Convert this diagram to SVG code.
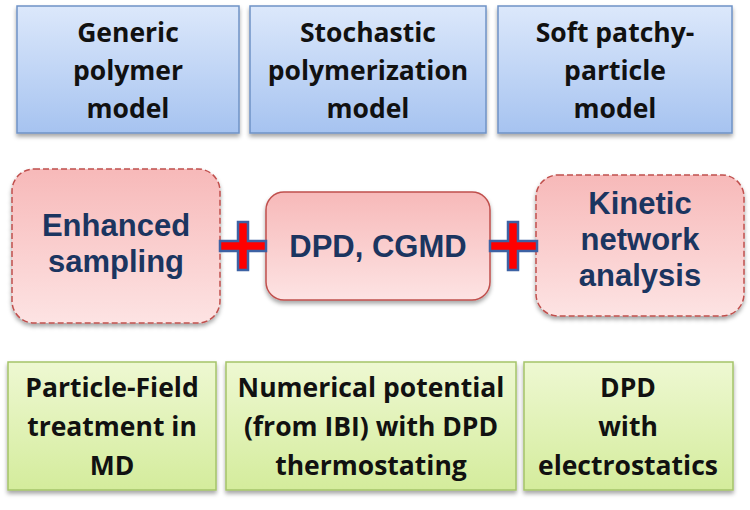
<svg xmlns="http://www.w3.org/2000/svg" width="750" height="510" viewBox="0 0 750 510">
<defs>
<linearGradient id="gBlue" x1="0" y1="0" x2="0" y2="1"><stop offset="0" stop-color="#dce8fb"/><stop offset="1" stop-color="#a6c3f0"/></linearGradient>
<linearGradient id="gPink" x1="0" y1="0" x2="0" y2="1"><stop offset="0" stop-color="#f7b9b9"/><stop offset="1" stop-color="#fde3e3"/></linearGradient>
<linearGradient id="gGreen" x1="0" y1="0" x2="0" y2="1"><stop offset="0" stop-color="#eef8d2"/><stop offset="1" stop-color="#d4ec9c"/></linearGradient>
<filter id="sh" x="-10%" y="-10%" width="120%" height="130%"><feDropShadow dx="0" dy="3" stdDeviation="2" flood-color="#000" flood-opacity="0.35"/></filter>
</defs>
<style>
.blue{fill:url(#gBlue);stroke:#6f93c6;stroke-width:1.5;filter:url(#sh)}
.green{fill:url(#gGreen);stroke:#a5c46a;stroke-width:1.5;filter:url(#sh)}
.pink{fill:url(#gPink);stroke:#c0504d;stroke-width:1.5;filter:url(#sh)}
.dash{stroke-dasharray:6 3}
.t{font-family:"Open Sans","Liberation Sans",sans-serif;font-weight:bold;font-size:26.5px;fill:#111;text-anchor:middle}
.m{font-family:"Liberation Sans","Open Sans",sans-serif;font-weight:bold;font-size:31px;fill:#1b3560;text-anchor:middle}
.plus{fill:#ff0000;stroke:#3d62a4;stroke-width:2.5}
</style>
<rect width="750" height="510" fill="#fff"/>
<g id="n1"><rect class="blue" x="17" y="6" width="222" height="127"/>
<text class="t" x="128" y="42">Generic</text><text class="t" x="128" y="80">polymer</text><text class="t" x="128" y="118">model</text></g>
<g id="n2"><rect class="blue" x="250" y="6" width="236" height="127"/>
<text class="t" x="368" y="42">Stochastic</text><text class="t" x="368" y="80">polymerization</text><text class="t" x="368" y="118">model</text></g>
<g id="n3"><rect class="blue" x="498" y="6" width="234" height="127"/>
<text class="t" x="615" y="42">Soft patchy-</text><text class="t" x="615" y="80">particle</text><text class="t" x="615" y="118">model</text></g>
<g id="n4"><rect class="pink dash" x="12" y="169" width="208" height="154" rx="22"/>
<text class="m" x="116" y="236">Enhanced</text><text class="m" x="116" y="272">sampling</text></g>
<g id="n5"><rect class="pink" x="266" y="192" width="224" height="108" rx="18"/>
<text class="m" x="378" y="257">DPD, CGMD</text></g>
<g id="n6"><rect class="pink dash" x="536" y="175" width="208" height="141" rx="22"/>
<text class="m" x="640" y="214">Kinetic</text><text class="m" x="640" y="250">network</text><text class="m" x="640" y="286">analysis</text></g>
<g id="n7"><rect class="green" x="8" y="362" width="208" height="128"/>
<text class="t" x="112" y="397">Particle-Field</text><text class="t" x="112" y="436">treatment in</text><text class="t" x="112" y="475">MD</text></g>
<g id="n8"><rect class="green" x="226" y="362" width="290" height="128"/>
<text class="t" x="371" y="397">Numerical potential</text><text class="t" x="371" y="436">(from IBI) with DPD</text><text class="t" x="371" y="475">thermostating</text></g>
<g id="n9"><rect class="green" x="524" y="362" width="209" height="128"/>
<text class="t" x="628" y="397">DPD</text><text class="t" x="628" y="436">with</text><text class="t" x="628" y="475">electrostatics</text></g>
<g id="connectors">
<path class="plus" d="M238,222 H248 V241 H266 V251 H248 V270 H238 V251 H220 V241 H238 Z"/>
<path class="plus" d="M508,222 H518 V241 H537 V251 H518 V270 H508 V251 H490 V241 H508 Z"/>
</g>
</svg>
